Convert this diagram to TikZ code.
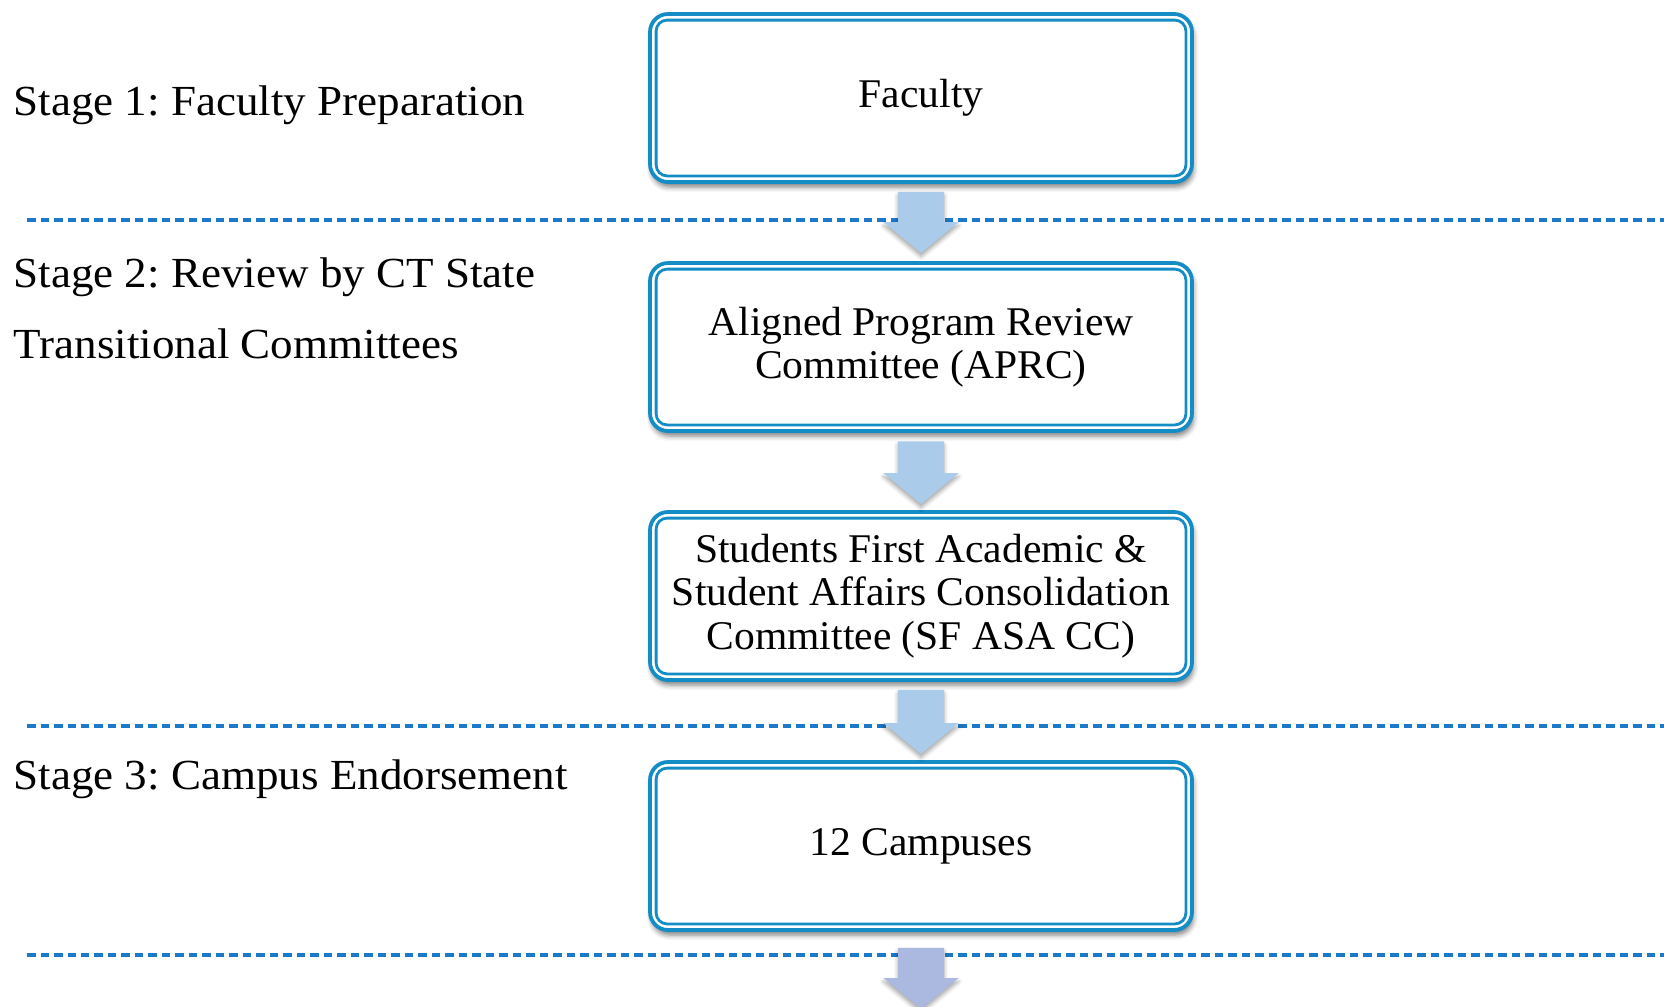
\documentclass[tikz,border=0pt]{standalone}
\usepackage{fontspec}
\setmainfont{Liberation Serif}
\newfontfamily\labelfont{Liberation Serif}[FakeStretch=1.05]
\newfontfamily\boxtextfont{Liberation Serif}[FakeStretch=1.02]
\usetikzlibrary{calc,shadows.blur}

\definecolor{boxblue}{RGB}{20,140,198}
\definecolor{arrowblue}{RGB}{170,203,233}
\definecolor{arrowlav}{RGB}{171,185,224}
\definecolor{dashblue}{RGB}{28,120,200}

\tikzset{
  stagebox/.style={draw=boxblue, line width=0.38mm, rounded corners=1.8mm,
    minimum width=54.2mm, minimum height=16.8mm, inner sep=0pt,
    align=center, fill=white, font=\boxtextfont\fontsize{11.6pt}{12.4pt}\selectfont,
    blur shadow={shadow xshift=0.15mm, shadow yshift=-0.5mm, shadow blur radius=0.5mm,
      shadow opacity=50}},
  innerline/.style={draw=boxblue, line width=0.28mm, rounded corners=1.1mm},
  stagelabel/.style={anchor=base west, inner sep=0pt,
    font=\labelfont\fontsize{12.2pt}{13pt}\selectfont},
  dashline/.style={draw=dashblue, line width=0.34mm, dash pattern=on 0.85mm off 0.5mm},
  arrowshadow/.style={blur shadow={shadow xshift=0mm, shadow yshift=-0.35mm,
      shadow blur radius=0.4mm, shadow opacity=35}}
}

% inner rule of a double-ruled box (anchors sit on the outer edge of the outer rule)
\newcommand{\innerrule}[1]{%
  \draw[innerline] ($(#1.south west)+(0.8mm,0.8mm)$) rectangle ($(#1.north east)-(0.8mm,0.8mm)$);}

% block arrow pointing down from #1 to #2, filled with colour #3
\newcommand{\blockarrow}[3]{%
  \fill[#3, arrowshadow] let \p1=(#1), \p2=(#2) in
    (\x1-2.3mm,\y1) -- (\x1-2.3mm,\y2+3.1mm) -- (\x1-3.75mm,\y2+3.1mm) -- (\x1,\y2)
    -- (\x1+3.75mm,\y2+3.1mm) -- (\x1+2.3mm,\y2+3.1mm) -- (\x1+2.3mm,\y1) -- cycle;}

\frenchspacing
\begin{document}
\begin{tikzpicture}[x=0.1mm, y=-0.1mm]
  \useasboundingbox (0,0) rectangle (1664,1006);

  % stage separators
  \draw[dashline] (27,220) -- (1664,220);
  \draw[dashline] (27,726) -- (1664,726);
  \draw[dashline] (27,955) -- (1664,955);

  % stage labels
  \node[stagelabel] (s1) at (13,115) {Stage 1: Faculty Preparation};
  \node[stagelabel] (s2a) at (13,287) {Stage 2: Review by CT State};
  \node[stagelabel] (s2b) at (13,358) {Transitional Committees};
  \node[stagelabel] (s3) at (13,789) {Stage 3: Campus Endorsement};

  % flow boxes
  \node[stagebox] (b1) at (921,98) {Faculty};
  \node[stagebox] (b2) at (921,347) {Aligned Program Review\\Committee (APRC)};
  \node[stagebox] (b3) at (921,596) {Students First Academic \&\\Student Affairs Consolidation\\Committee (SF ASA CC)};
  \node[stagebox] (b4) at (921,846) {12 Campuses};
  \innerrule{b1}
  \innerrule{b2}
  \innerrule{b3}
  \innerrule{b4}
  \coordinate (out) at (921,1009);

  % connecting arrows
  \coordinate (a1s) at ($(b1.south)+(0,-0.8mm)$);
  \coordinate (a1e) at ($(b2.north)+(0,0.8mm)$);
  \coordinate (a2s) at ($(b2.south)+(0,-0.85mm)$);
  \coordinate (a2e) at ($(b3.north)+(0,0.6mm)$);
  \coordinate (a3s) at ($(b3.south)+(0,-0.8mm)$);
  \coordinate (a3e) at ($(b4.north)+(0,0.6mm)$);
  \coordinate (a4s) at ($(b4.south)+(0,-1.6mm)$);
  \blockarrow{a1s}{a1e}{arrowblue}
  \blockarrow{a2s}{a2e}{arrowblue}
  \blockarrow{a3s}{a3e}{arrowblue}
  \blockarrow{a4s}{out}{arrowlav}
\end{tikzpicture}
\end{document}
